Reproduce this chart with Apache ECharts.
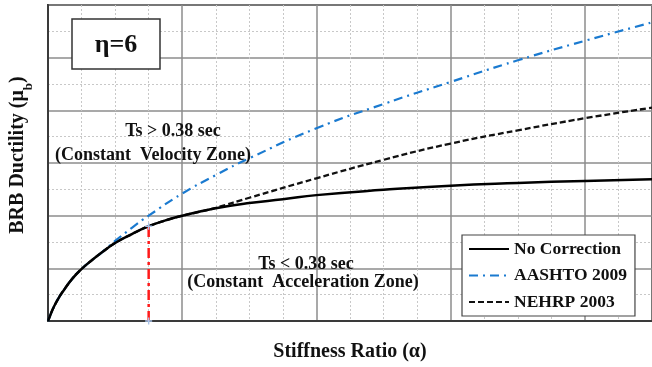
<!DOCTYPE html>
<html><head><meta charset="utf-8">
<script src="https://cdn.jsdelivr.net/npm/echarts@6/dist/echarts.min.js"></script>
<style>html,body{margin:0;padding:0;background:#fff}#c{width:652px;height:367px}</style>
</head><body><div id="c"></div>
<script>
// Data
const noCorrX = [0,0.02,0.044,0.08,0.119,0.18,0.247,0.32,0.4,0.5,0.625,0.75,0.875,1.0,1.25,1.5,1.75,2.0,2.5,3.0,3.5,4.0,4.5];
const noCorrY = [0,0.13,0.27,0.44,0.59,0.80,0.98,1.14,1.30,1.48,1.65,1.80,1.91,2.0,2.14,2.24,2.31,2.39,2.49,2.57,2.62,2.66,2.69];
const aashtoX = [0,0.02,0.044,0.08,0.119,0.18,0.247,0.32,0.4,0.45,0.5,0.625,0.75,1.0,1.25,1.5,2.0,2.5,3.0,3.5,4.0,4.5];
const aashtoY = [0,0.13,0.27,0.44,0.59,0.80,0.98,1.14,1.30,1.41,1.52,1.77,2.0,2.42,2.77,3.09,3.66,4.12,4.54,4.95,5.32,5.67];
const nehrpX = [0,0.02,0.044,0.08,0.119,0.18,0.247,0.32,0.4,0.5,0.625,0.75,0.875,1.0,1.125,1.25,1.5,2.0,2.5,3.0,3.5,4.0,4.5];
const nehrpY = [0,0.13,0.27,0.44,0.59,0.80,0.98,1.14,1.30,1.48,1.65,1.80,1.91,2.0,2.07,2.15,2.34,2.71,3.06,3.37,3.62,3.85,4.05];
const boundaryX = [0.75,0.75];
const boundaryY = [0,1.80];
const seriesNames = ['No Correction','AASHTO 2009','NEHRP 2003'];

const zip = (a,b)=>a.map((v,i)=>[v,b[i]]);
const F = 'Liberation Serif, Times New Roman, serif';
const chart = echarts.init(document.getElementById('c'));
chart.setOption({
  backgroundColor:'#fff',
  animation:false,
  grid:{left:48, top:5, right:-3.5, bottom:46, show:true, borderColor:'#3a3a3a', borderWidth:2, backgroundColor:'transparent'},
  xAxis:{type:'value', min:0, max:4.5, interval:1,
    name:'Stiffness Ratio (α)', nameLocation:'middle', nameGap:21,
    nameTextStyle:{fontFamily:F, fontWeight:'bold', fontSize:20, color:'#111'},
    axisLine:{show:true, lineStyle:{color:'#3a3a3a', width:2}}, axisTick:{show:false}, axisLabel:{show:false},
    splitLine:{show:true, lineStyle:{color:'#8c8c8c', width:1.5}},
    minorTick:{show:false, splitNumber:4},
    minorSplitLine:{show:true, lineStyle:{color:'#c8c8c8', width:1, type:[2,2]}}},
  yAxis:{type:'value', min:0, max:6, interval:1,
    name:'BRB Ductility (μ{s|b})', nameLocation:'middle', nameGap:20, nameRotate:90,
    nameTextStyle:{fontFamily:F, fontWeight:'bold', fontSize:20, color:'#111', padding:[0,0,0,16],
      rich:{s:{fontFamily:F, fontWeight:'bold', fontSize:13, color:'#111', verticalAlign:'bottom', padding:[0,0,-7,0]}}},
    axisLine:{show:true, lineStyle:{color:'#3a3a3a', width:2}}, axisTick:{show:false}, axisLabel:{show:false},
    splitLine:{show:true, lineStyle:{color:'#8c8c8c', width:1.5}},
    minorTick:{show:false, splitNumber:2},
    minorSplitLine:{show:true, lineStyle:{color:'#c8c8c8', width:1, type:[2,2]}}},
  legend:{data:seriesNames, orient:'vertical', left:462, top:235, width:165,
    padding:[5,8,5,6], itemWidth:40, itemHeight:14, itemGap:8.5,
    itemStyle:{opacity:0},
    backgroundColor:'#fff', borderColor:'#444', borderWidth:1.2, borderRadius:0,
    textStyle:{fontFamily:F, fontWeight:'bold', fontSize:17.5, color:'#111'}},
  series:[
    {name:'NEHRP 2003', type:'line', data:zip(nehrpX,nehrpY), smooth:0.5, showSymbol:false, symbol:'none', z:3,
      lineStyle:{color:'#111', width:2.3, type:[6,3]}, itemStyle:{color:'#111'}},
    {name:'AASHTO 2009', type:'line', data:zip(aashtoX,aashtoY), smooth:0.5, showSymbol:false, symbol:'none', z:4,
      lineStyle:{color:'#1a7ad0', width:2.2, type:[9,5,2,5]}, itemStyle:{color:'#1a7ad0'}},
    {name:'No Correction', type:'line', data:zip(noCorrX,noCorrY), smooth:0.5, showSymbol:false, symbol:'none', z:5,
      lineStyle:{color:'#000', width:2.5}, itemStyle:{color:'#000'}},
    {name:'boundary', type:'line', data:zip(boundaryX,boundaryY), symbol:'path://M4,0h2v4h4v2h-4v4h-2v-4h-4v-2h4z', symbolSize:7, z:6,
      itemStyle:{color:'#a9c4ea'}, lineStyle:{color:'#ff1a1a', width:2.5, type:[10,4,3,4]}}
  ],
  graphic:[
    {type:'rect', shape:{x:72, y:19, width:88, height:50}, style:{fill:'#fff', stroke:'#333', lineWidth:1.5}, z:10},
    {type:'text', x:116, y:45, style:{text:'η=6', font:'bold 26px '+F, fill:'#111', textAlign:'center', textVerticalAlign:'middle'}, z:11},
    {type:'text', x:173, y:131, style:{text:'Ts > 0.38 sec', font:'bold 18px '+F, fill:'#111', textAlign:'center', textVerticalAlign:'middle'}, z:11},
    {type:'text', x:153, y:155, style:{text:'(Constant  Velocity Zone)', font:'bold 18px '+F, fill:'#111', textAlign:'center', textVerticalAlign:'middle'}, z:11},
    {type:'text', x:306, y:264, style:{text:'Ts < 0.38 sec', font:'bold 18px '+F, fill:'#111', textAlign:'center', textVerticalAlign:'middle'}, z:11},
    {type:'text', x:303, y:282, style:{text:'(Constant  Acceleration Zone)', font:'bold 18px '+F, fill:'#111', textAlign:'center', textVerticalAlign:'middle'}, z:11}
  ]
});
</script></body></html>
